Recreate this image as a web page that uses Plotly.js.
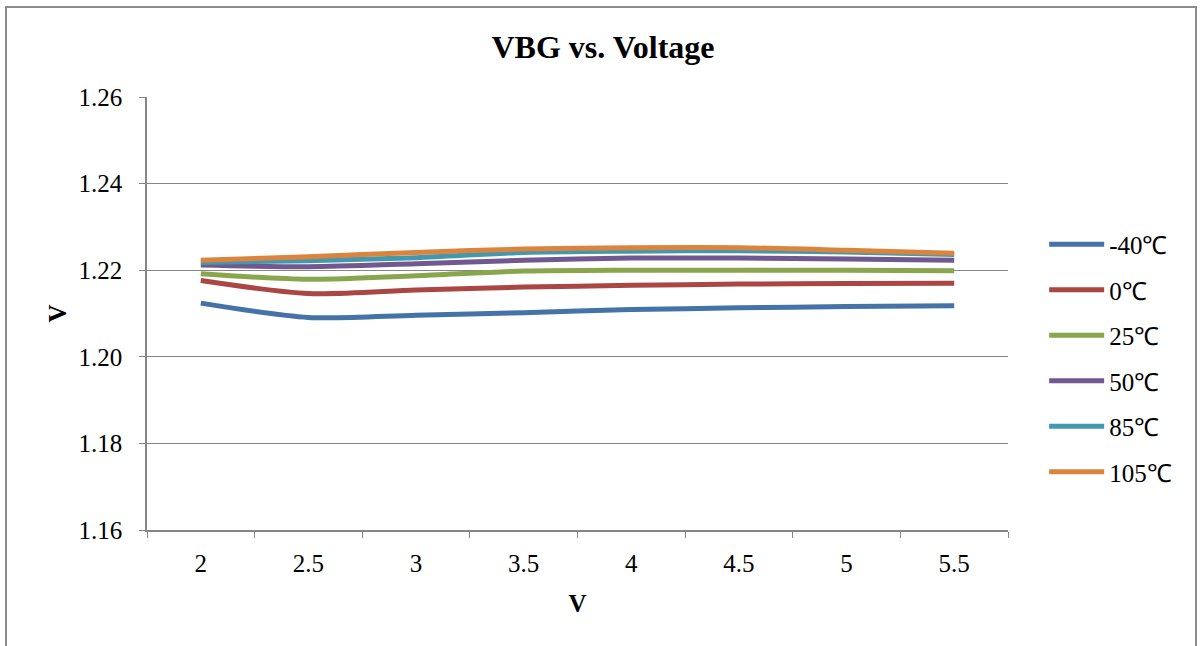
<!DOCTYPE html>
<html>
<head>
<meta charset="utf-8">
<script src="https://cdn.plot.ly/plotly-3.0.1.min.js"></script>
<style>
  html, body { margin: 0; padding: 0; background: #fff; }
  #wrap { position: relative; width: 1200px; height: 646px; }
  #chart { width: 1200px; height: 646px; }
  #frame { position: absolute; left: 5px; top: 6px; width: 1192px; height: 660px;
           border: 2px solid #8c8c8c; box-sizing: border-box; pointer-events: none; }
</style>
</head>
<body>
<div id="wrap">
  <div id="chart"></div>
  <div id="frame"></div>
</div>
<script>
const voltages = ['2', '2.5', '3', '3.5', '4', '4.5', '5', '5.5'];
const seriesNames = ['-40℃', '0℃', '25℃', '50℃', '85℃', '105℃'];
const vbgMinus40 = [1.2124, 1.2091, 1.2096, 1.2102, 1.2109, 1.2113, 1.2116, 1.2118];
const vbg0       = [1.2176, 1.2146, 1.2154, 1.2161, 1.2165, 1.2168, 1.2169, 1.2170];
const vbg25      = [1.2192, 1.2179, 1.2187, 1.2198, 1.2200, 1.2200, 1.2200, 1.2199];
const vbg50      = [1.2212, 1.2208, 1.2215, 1.2223, 1.2228, 1.2228, 1.2226, 1.2223];
const vbg85      = [1.2218, 1.2222, 1.2229, 1.2241, 1.2244, 1.2245, 1.2242, 1.2236];
const vbg105     = [1.2223, 1.2231, 1.2241, 1.2249, 1.2252, 1.2252, 1.2246, 1.2239];
const yTicks = [1.16, 1.18, 1.20, 1.22, 1.24, 1.26];
const yTickText = ['1.16', '1.18', '1.20', '1.22', '1.24', '1.26'];

const allSeries = [vbgMinus40, vbg0, vbg25, vbg50, vbg85, vbg105];
const colors = ['#4572A7', '#AA4643', '#89A54E', '#71588F', '#4198AF', '#DB843D'];

const font = 'Liberation Serif';

const traces = allSeries.map((vals, i) => ({
  type: 'scatter',
  mode: 'lines',
  x: voltages,
  y: vals,
  name: seriesNames[i],
  legendgroup: 'g' + i,
  line: { color: colors[i], width: 5, shape: 'spline', smoothing: 0.8 },
  hoverinfo: 'x+y+name'
}));

const layout = {
  width: 1200,
  height: 646,
  paper_bgcolor: 'rgba(0,0,0,0)',
  plot_bgcolor: '#ffffff',
  font: { family: font },
  margin: { l: 147, r: 192, t: 97, b: 116 },
  title: {
    text: '<b>VBG vs. Voltage</b>',
    font: { family: font, size: 32, color: '#000' },
    x: 0.5025, xref: 'container', xanchor: 'center',
    y: 0.927, yanchor: 'middle'
  },
  xaxis: {
    type: 'category',
    tickson: 'boundaries',
    ticks: 'outside',
    ticklen: 6,
    tickcolor: '#868686',
    showline: true,
    linecolor: '#868686',
    linewidth: 1.5,
    showgrid: false,
    zeroline: false,
    tickfont: { family: font, size: 25, color: '#000' },
    ticklabelstandoff: 10,
    title: { text: '<b>V</b>', font: { family: font, size: 25, color: '#000' }, standoff: 19 },
    range: [-0.5, 7.5]
  },
  yaxis: {
    range: [1.16, 1.26],
    tickvals: yTicks,
    ticktext: yTickText,
    ticks: 'outside',
    ticklen: 6,
    tickcolor: '#868686',
    showline: true,
    linecolor: '#868686',
    linewidth: 1.5,
    showgrid: true,
    gridcolor: '#868686',
    gridwidth: 1,
    zeroline: false,
    tickfont: { family: font, size: 25, color: '#000' },
    ticklabelstandoff: 12,
    title: { text: '<b>V</b>', font: { family: font, size: 25, color: '#000' }, standoff: 5 }
  },
  showlegend: true,
  legend: {
    x: 1.042, xanchor: 'left',
    y: 0.397, yanchor: 'middle',
    font: { family: font, size: 25, color: '#000' },
    traceorder: 'grouped',
    tracegroupgap: 10,
    itemwidth: 55,
    bgcolor: 'rgba(0,0,0,0)'
  }
};

Plotly.newPlot('chart', traces, layout, { displayModeBar: false });
</script>
</body>
</html>
